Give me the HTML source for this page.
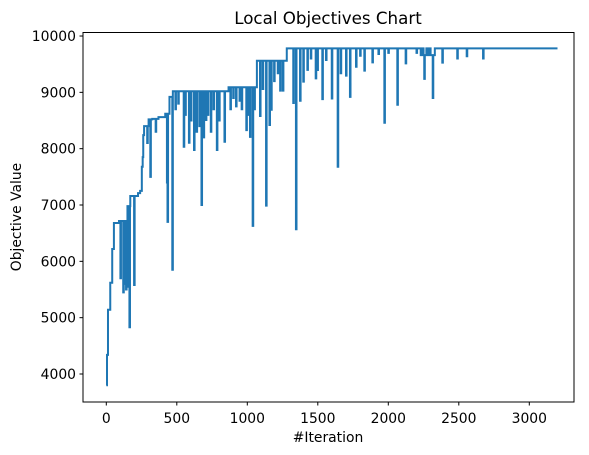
<!DOCTYPE html>
<html><head><meta charset="utf-8"><style>
body{margin:0;background:#fff}
svg{display:block;font-family:"DejaVu Sans","Liberation Sans",sans-serif}
</style></head><body>
<svg id="chart" width="589" height="455">
<text x="328" y="24" text-anchor="middle" font-size="16.7">Local Objectives Chart</text>
<text x="328" y="442" text-anchor="middle" font-size="13.9">#Iteration</text>
<text transform="translate(21,217) rotate(-90)" text-anchor="middle" font-size="13.9">Objective Value</text>
<g id="ticks"></g>
<path id="line" fill="none" stroke="#1f77b4" stroke-width="2" stroke-linejoin="miter"></path>
<rect x="83" y="32.5" width="491" height="369.5" fill="none" stroke="#000" stroke-width="1"></rect>
</svg>
<script>
const xTicks=[0,500,1000,1500,2000,2500,3000];
const yTicks=[4000,5000,6000,7000,8000,9000,10000];
const iterations=[0,5,12,28,42,54,90,100,104,120,124,130,134,140,144,150,155,158,164,168,170,197,201,225,240,252,258,262,268,290,294,300,312,316,326,350,354,370,418,430,434,438,448,468,472,
490,494,510,514,549,553,560,564,586,590,600,604,622,626,640,644,660,664,675,679,690,694,706,710,720,724,741,745,760,764,784,788,800,804,838,842,867,880,884,900,904,920,924,945,949,960,964,993,997,1005,1009,1019,1023,1038,1042,1050,1054,1068,1090,1094,1109,1113,1133,1137,1157,1161,1169,1173,1190,1194,1216,1220,1233,1237,1252,1256,1280,
1326,1330,1345,1349,1374,1378,1397,1401,1426,1430,1450,1454,1485,1489,1497,1501,1532,1536,1558,1562,1599,1603,1641,1645,1662,1666,1700,1704,1728,1732,1771,1775,1800,1804,1830,1834,1887,1891,1930,1934,1972,1976,2000,2004,2064,2068,2123,2127,2200,2204,2230,2240,2250,2255,2259,2270,2280,2290,2300,2315,2319,2330,2383,2387,2489,2493,2556,2560,2672,2676,3200];
const values=[3800,4340,5140,5620,6220,6680,6715,5700,6715,5450,6715,5600,6715,5500,6715,6980,5550,6980,4830,6980,7160,5580,7160,7210,7250,7680,7850,8240,8400,8100,8400,8520,7500,8520,8530,8300,8530,8560,8620,7400,6700,8620,8920,5850,9020,
8700,9020,8800,9020,8035,9020,8600,9020,8106,9020,8500,9020,7977,9020,8300,9020,8400,9020,7000,9020,8200,9020,8510,9020,8600,9020,8300,9020,8700,9020,7977,9020,8500,9020,8124,9020,9090,8700,9090,8900,9090,8750,9090,8850,9090,8700,9090,8330,9090,8600,9090,8210,9090,6630,9090,8700,9090,9560,8580,9560,9060,9560,6990,9560,8420,9560,8690,9560,9200,9560,9340,9560,9030,9560,9030,9560,9780,
8810,9780,6570,9780,8850,9780,9190,9780,9400,9780,9600,9780,9249,9780,9397,9780,8880,9780,9574,9780,8890,9780,7680,9780,9338,9780,9296,9780,8920,9780,9455,9780,9650,9780,9385,9780,9533,9780,9680,9780,8460,9780,9700,9780,8780,9780,9515,9780,9700,9780,9660,9780,9660,9240,9660,9780,9660,9780,9660,8900,9660,9780,9527,9780,9600,9780,9640,9780,9600,9780,9780];
const NS="http://www.w3.org/2000/svg";
function xs(i){return 106.3+i*0.141;}
function ys(v){return 374-(v-4000)*0.05633;}
const g=document.getElementById('ticks');
xTicks.forEach(t=>{
  const l=document.createElementNS(NS,'line');
  l.setAttribute('x1',xs(t));l.setAttribute('x2',xs(t));l.setAttribute('y1',402);l.setAttribute('y2',405.5);l.setAttribute('stroke','#000');
  
  
  g.appendChild(l);
  const tx=document.createElementNS(NS,'text');
  tx.setAttribute('x',xs(t));tx.setAttribute('y',423);tx.setAttribute('text-anchor','middle');tx.setAttribute('font-size','13.9');
  tx.textContent=t;
  
  
  g.appendChild(tx);
});
yTicks.forEach(t=>{
  const l=document.createElementNS(NS,'line');
  l.setAttribute('x1',79.5);l.setAttribute('x2',83);l.setAttribute('y1',ys(t));l.setAttribute('y2',ys(t));l.setAttribute('stroke','#000');
  
  
  g.appendChild(l);
  const tx=document.createElementNS(NS,'text');
  tx.setAttribute('x',76);tx.setAttribute('y',ys(t)+5);tx.setAttribute('text-anchor','end');tx.setAttribute('font-size','13.9');
  tx.textContent=t;
  
  
  g.appendChild(tx);
});
let d='M'+xs(iterations[0])+','+ys(values[0]);
for(let k=1;k<iterations.length;k++){
  d+=' H'+xs(iterations[k]).toFixed(2)+' V'+ys(values[k]).toFixed(2);
}
document.getElementById('line').setAttribute('d',d);
</script>
</body></html>
